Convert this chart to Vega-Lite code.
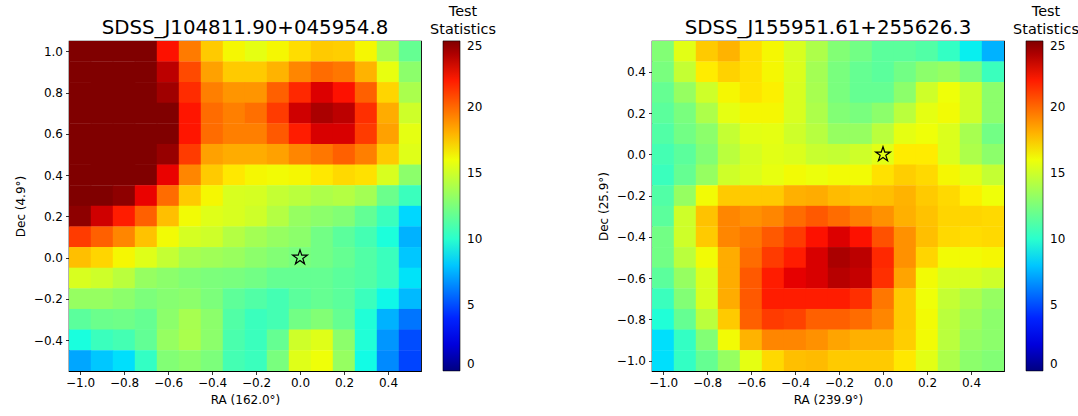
{
  "$schema": "https://vega.github.io/schema/vega-lite/v6.json",
  "padding": {"top": 4, "left": 13, "right": 0, "bottom": 0},
  "background": "white",
  "config": {
    "font": "DejaVu Sans",
    "view": {"stroke": "black", "strokeWidth": 1.2},
    "axis": {"labelFont": "DejaVu Sans", "labelFontSize": 12, "labelColor": "black", "tickColor": "black", "tickSize": 3.5, "tickWidth": 0.8, "labelPadding": 3, "titleFont": "DejaVu Sans", "titleFontSize": 12, "titleFontWeight": "normal", "titleColor": "black", "grid": false, "domain": false, "format": ".1f", "titlePadding": 6},
    "title": {"font": "DejaVu Sans", "fontSize": 19.8, "fontWeight": "normal", "color": "black", "offset": -33},
    "legend": {"labelFont": "DejaVu Sans", "titleFont": "DejaVu Sans", "labelColor": "black", "titleColor": "black"}
  },
  "datasets": {
    "star": [{"ra": 0, "dec": 0}],
    "left": [
      {"ra":-1.0,"dec":1.0,"ts":25},{"ra":-0.9,"dec":1.0,"ts":25},{"ra":-0.8,"dec":1.0,"ts":25},{"ra":-0.7,"dec":1.0,"ts":25},{"ra":-0.6,"dec":1.0,"ts":22.3},{"ra":-0.5,"dec":1.0,"ts":19.5},{"ra":-0.4,"dec":1.0,"ts":17.4},{"ra":-0.3,"dec":1.0,"ts":16.2},{"ra":-0.2,"dec":1.0,"ts":15.7},{"ra":-0.1,"dec":1.0,"ts":16.2},{"ra":0.0,"dec":1.0,"ts":16.9},{"ra":0.1,"dec":1.0,"ts":17.4},{"ra":0.2,"dec":1.0,"ts":17.3},{"ra":0.3,"dec":1.0,"ts":16.2},{"ra":0.4,"dec":1.0,"ts":13.9},{"ra":0.5,"dec":1.0,"ts":11.8},
      {"ra":-1.0,"dec":0.9,"ts":25},{"ra":-0.9,"dec":0.9,"ts":25},{"ra":-0.8,"dec":0.9,"ts":25},{"ra":-0.7,"dec":0.9,"ts":25},{"ra":-0.6,"dec":0.9,"ts":23.7},{"ra":-0.5,"dec":0.9,"ts":20.8},{"ra":-0.4,"dec":0.9,"ts":18.5},{"ra":-0.3,"dec":0.9,"ts":17.4},{"ra":-0.2,"dec":0.9,"ts":17.4},{"ra":-0.1,"dec":0.9,"ts":18},{"ra":0.0,"dec":0.9,"ts":19.2},{"ra":0.1,"dec":0.9,"ts":19.9},{"ra":0.2,"dec":0.9,"ts":19.6},{"ra":0.3,"dec":0.9,"ts":18},{"ra":0.4,"dec":0.9,"ts":15.8},{"ra":0.5,"dec":0.9,"ts":13},
      {"ra":-1.0,"dec":0.8,"ts":25},{"ra":-0.9,"dec":0.8,"ts":25},{"ra":-0.8,"dec":0.8,"ts":25},{"ra":-0.7,"dec":0.8,"ts":25},{"ra":-0.6,"dec":0.8,"ts":24.3},{"ra":-0.5,"dec":0.8,"ts":21.6},{"ra":-0.4,"dec":0.8,"ts":19.4},{"ra":-0.3,"dec":0.8,"ts":18.8},{"ra":-0.2,"dec":0.8,"ts":18.8},{"ra":-0.1,"dec":0.8,"ts":20.2},{"ra":0.0,"dec":0.8,"ts":21.7},{"ra":0.1,"dec":0.8,"ts":23},{"ra":0.2,"dec":0.8,"ts":22.3},{"ra":0.3,"dec":0.8,"ts":20.2},{"ra":0.4,"dec":0.8,"ts":17.1},{"ra":0.5,"dec":0.8,"ts":13.9},
      {"ra":-1.0,"dec":0.7,"ts":25},{"ra":-0.9,"dec":0.7,"ts":25},{"ra":-0.8,"dec":0.7,"ts":25},{"ra":-0.7,"dec":0.7,"ts":25},{"ra":-0.6,"dec":0.7,"ts":25},{"ra":-0.5,"dec":0.7,"ts":22.2},{"ra":-0.4,"dec":0.7,"ts":19.9},{"ra":-0.3,"dec":0.7,"ts":19.4},{"ra":-0.2,"dec":0.7,"ts":19.8},{"ra":-0.1,"dec":0.7,"ts":21.2},{"ra":0.0,"dec":0.7,"ts":23.3},{"ra":0.1,"dec":0.7,"ts":24.1},{"ra":0.2,"dec":0.7,"ts":23.7},{"ra":0.3,"dec":0.7,"ts":21.5},{"ra":0.4,"dec":0.7,"ts":18.2},{"ra":0.5,"dec":0.7,"ts":15},
      {"ra":-1.0,"dec":0.6,"ts":25},{"ra":-0.9,"dec":0.6,"ts":25},{"ra":-0.8,"dec":0.6,"ts":25},{"ra":-0.7,"dec":0.6,"ts":25},{"ra":-0.6,"dec":0.6,"ts":25},{"ra":-0.5,"dec":0.6,"ts":22.2},{"ra":-0.4,"dec":0.6,"ts":19.9},{"ra":-0.3,"dec":0.6,"ts":19.4},{"ra":-0.2,"dec":0.6,"ts":19.4},{"ra":-0.1,"dec":0.6,"ts":20.4},{"ra":0.0,"dec":0.6,"ts":22},{"ra":0.1,"dec":0.6,"ts":23.1},{"ra":0.2,"dec":0.6,"ts":23.1},{"ra":0.3,"dec":0.6,"ts":21.2},{"ra":0.4,"dec":0.6,"ts":18.5},{"ra":0.5,"dec":0.6,"ts":15.7},
      {"ra":-1.0,"dec":0.5,"ts":25},{"ra":-0.9,"dec":0.5,"ts":25},{"ra":-0.8,"dec":0.5,"ts":25},{"ra":-0.7,"dec":0.5,"ts":25},{"ra":-0.6,"dec":0.5,"ts":24.5},{"ra":-0.5,"dec":0.5,"ts":21.2},{"ra":-0.4,"dec":0.5,"ts":18.5},{"ra":-0.3,"dec":0.5,"ts":18.2},{"ra":-0.2,"dec":0.5,"ts":18.2},{"ra":-0.1,"dec":0.5,"ts":18.5},{"ra":0.0,"dec":0.5,"ts":19.2},{"ra":0.1,"dec":0.5,"ts":19.6},{"ra":0.2,"dec":0.5,"ts":20.2},{"ra":0.3,"dec":0.5,"ts":19.4},{"ra":0.4,"dec":0.5,"ts":17.4},{"ra":0.5,"dec":0.5,"ts":15.5},
      {"ra":-1.0,"dec":0.4,"ts":25},{"ra":-0.9,"dec":0.4,"ts":25},{"ra":-0.8,"dec":0.4,"ts":25},{"ra":-0.7,"dec":0.4,"ts":25},{"ra":-0.6,"dec":0.4,"ts":22.7},{"ra":-0.5,"dec":0.4,"ts":19.2},{"ra":-0.4,"dec":0.4,"ts":17.4},{"ra":-0.3,"dec":0.4,"ts":16.6},{"ra":-0.2,"dec":0.4,"ts":16.2},{"ra":-0.1,"dec":0.4,"ts":16.1},{"ra":0.0,"dec":0.4,"ts":16.2},{"ra":0.1,"dec":0.4,"ts":16.6},{"ra":0.2,"dec":0.4,"ts":17},{"ra":0.3,"dec":0.4,"ts":16.8},{"ra":0.4,"dec":0.4,"ts":15.3},{"ra":0.5,"dec":0.4,"ts":13},
      {"ra":-1.0,"dec":0.3,"ts":25},{"ra":-0.9,"dec":0.3,"ts":25},{"ra":-0.8,"dec":0.3,"ts":24.7},{"ra":-0.7,"dec":0.3,"ts":22.7},{"ra":-0.6,"dec":0.3,"ts":19.9},{"ra":-0.5,"dec":0.3,"ts":17.4},{"ra":-0.4,"dec":0.3,"ts":16.2},{"ra":-0.3,"dec":0.3,"ts":15.3},{"ra":-0.2,"dec":0.3,"ts":15.2},{"ra":-0.1,"dec":0.3,"ts":14.7},{"ra":0.0,"dec":0.3,"ts":14.4},{"ra":0.1,"dec":0.3,"ts":14},{"ra":0.2,"dec":0.3,"ts":14.2},{"ra":0.3,"dec":0.3,"ts":13.7},{"ra":0.4,"dec":0.3,"ts":12},{"ra":0.5,"dec":0.3,"ts":10.5},
      {"ra":-1.0,"dec":0.2,"ts":24.7},{"ra":-0.9,"dec":0.2,"ts":23.3},{"ra":-0.8,"dec":0.2,"ts":22},{"ra":-0.7,"dec":0.2,"ts":20.2},{"ra":-0.6,"dec":0.2,"ts":17.7},{"ra":-0.5,"dec":0.2,"ts":16.1},{"ra":-0.4,"dec":0.2,"ts":15.5},{"ra":-0.3,"dec":0.2,"ts":15.3},{"ra":-0.2,"dec":0.2,"ts":15},{"ra":-0.1,"dec":0.2,"ts":14.2},{"ra":0.0,"dec":0.2,"ts":13.3},{"ra":0.1,"dec":0.2,"ts":13},{"ra":0.2,"dec":0.2,"ts":12.7},{"ra":0.3,"dec":0.2,"ts":11.7},{"ra":0.4,"dec":0.2,"ts":10.5},{"ra":0.5,"dec":0.2,"ts":8.4},
      {"ra":-1.0,"dec":0.1,"ts":21.2},{"ra":-0.9,"dec":0.1,"ts":20.2},{"ra":-0.8,"dec":0.1,"ts":19.2},{"ra":-0.7,"dec":0.1,"ts":17.6},{"ra":-0.6,"dec":0.1,"ts":16.1},{"ra":-0.5,"dec":0.1,"ts":15.2},{"ra":-0.4,"dec":0.1,"ts":15},{"ra":-0.3,"dec":0.1,"ts":14.2},{"ra":-0.2,"dec":0.1,"ts":13.7},{"ra":-0.1,"dec":0.1,"ts":13.3},{"ra":0.0,"dec":0.1,"ts":13},{"ra":0.1,"dec":0.1,"ts":12.2},{"ra":0.2,"dec":0.1,"ts":11.5},{"ra":0.3,"dec":0.1,"ts":10.8},{"ra":0.4,"dec":0.1,"ts":9.6},{"ra":0.5,"dec":0.1,"ts":7.5},
      {"ra":-1.0,"dec":0.0,"ts":17.7},{"ra":-0.9,"dec":0.0,"ts":17.1},{"ra":-0.8,"dec":0.0,"ts":16.2},{"ra":-0.7,"dec":0.0,"ts":15.5},{"ra":-0.6,"dec":0.0,"ts":14.7},{"ra":-0.5,"dec":0.0,"ts":13.8},{"ra":-0.4,"dec":0.0,"ts":13.6},{"ra":-0.3,"dec":0.0,"ts":13.4},{"ra":-0.2,"dec":0.0,"ts":13},{"ra":-0.1,"dec":0.0,"ts":12.7},{"ra":0.0,"dec":0.0,"ts":12.4},{"ra":0.1,"dec":0.0,"ts":12.2},{"ra":0.2,"dec":0.0,"ts":11.8},{"ra":0.3,"dec":0.0,"ts":11.2},{"ra":0.4,"dec":0.0,"ts":10.5},{"ra":0.5,"dec":0.0,"ts":8},
      {"ra":-1.0,"dec":-0.1,"ts":15.3},{"ra":-0.9,"dec":-0.1,"ts":15},{"ra":-0.8,"dec":-0.1,"ts":14.4},{"ra":-0.7,"dec":-0.1,"ts":13.3},{"ra":-0.6,"dec":-0.1,"ts":13},{"ra":-0.5,"dec":-0.1,"ts":12.7},{"ra":-0.4,"dec":-0.1,"ts":12.5},{"ra":-0.3,"dec":-0.1,"ts":12.4},{"ra":-0.2,"dec":-0.1,"ts":12.2},{"ra":-0.1,"dec":-0.1,"ts":11.8},{"ra":0.0,"dec":-0.1,"ts":11.8},{"ra":0.1,"dec":-0.1,"ts":11.8},{"ra":0.2,"dec":-0.1,"ts":11.5},{"ra":0.3,"dec":-0.1,"ts":11.2},{"ra":0.4,"dec":-0.1,"ts":10.5},{"ra":0.5,"dec":-0.1,"ts":8.7},
      {"ra":-1.0,"dec":-0.2,"ts":13.3},{"ra":-0.9,"dec":-0.2,"ts":13.3},{"ra":-0.8,"dec":-0.2,"ts":13},{"ra":-0.7,"dec":-0.2,"ts":12.5},{"ra":-0.6,"dec":-0.2,"ts":12.8},{"ra":-0.5,"dec":-0.2,"ts":13},{"ra":-0.4,"dec":-0.2,"ts":12.5},{"ra":-0.3,"dec":-0.2,"ts":11.6},{"ra":-0.2,"dec":-0.2,"ts":11.2},{"ra":-0.1,"dec":-0.2,"ts":10.8},{"ra":0.0,"dec":-0.2,"ts":11.5},{"ra":0.1,"dec":-0.2,"ts":11.8},{"ra":0.2,"dec":-0.2,"ts":11.5},{"ra":0.3,"dec":-0.2,"ts":10.5},{"ra":0.4,"dec":-0.2,"ts":9.2},{"ra":0.5,"dec":-0.2,"ts":7.7},
      {"ra":-1.0,"dec":-0.3,"ts":11.5},{"ra":-0.9,"dec":-0.3,"ts":12},{"ra":-0.8,"dec":-0.3,"ts":12.1},{"ra":-0.7,"dec":-0.3,"ts":11.8},{"ra":-0.6,"dec":-0.3,"ts":13},{"ra":-0.5,"dec":-0.3,"ts":13.8},{"ra":-0.4,"dec":-0.3,"ts":13},{"ra":-0.3,"dec":-0.3,"ts":11.2},{"ra":-0.2,"dec":-0.3,"ts":10.5},{"ra":-0.1,"dec":-0.3,"ts":10.8},{"ra":0.0,"dec":-0.3,"ts":12.2},{"ra":0.1,"dec":-0.3,"ts":12.7},{"ra":0.2,"dec":-0.3,"ts":11.8},{"ra":0.3,"dec":-0.3,"ts":9.7},{"ra":0.4,"dec":-0.3,"ts":7.5},{"ra":0.5,"dec":-0.3,"ts":6},
      {"ra":-1.0,"dec":-0.4,"ts":9.5},{"ra":-0.9,"dec":-0.4,"ts":10.5},{"ra":-0.8,"dec":-0.4,"ts":10.8},{"ra":-0.7,"dec":-0.4,"ts":11.7},{"ra":-0.6,"dec":-0.4,"ts":13.3},{"ra":-0.5,"dec":-0.4,"ts":13.9},{"ra":-0.4,"dec":-0.4,"ts":13},{"ra":-0.3,"dec":-0.4,"ts":11},{"ra":-0.2,"dec":-0.4,"ts":10.5},{"ra":-0.1,"dec":-0.4,"ts":11.8},{"ra":0.0,"dec":-0.4,"ts":15},{"ra":0.1,"dec":-0.4,"ts":15.5},{"ra":0.2,"dec":-0.4,"ts":13},{"ra":0.3,"dec":-0.4,"ts":9.7},{"ra":0.4,"dec":-0.4,"ts":6.8},{"ra":0.5,"dec":-0.4,"ts":5},
      {"ra":-1.0,"dec":-0.5,"ts":7.2},{"ra":-0.9,"dec":-0.5,"ts":8},{"ra":-0.8,"dec":-0.5,"ts":8.6},{"ra":-0.7,"dec":-0.5,"ts":10.3},{"ra":-0.6,"dec":-0.5,"ts":12.7},{"ra":-0.5,"dec":-0.5,"ts":13},{"ra":-0.4,"dec":-0.5,"ts":12.5},{"ra":-0.3,"dec":-0.5,"ts":10.8},{"ra":-0.2,"dec":-0.5,"ts":10.5},{"ra":-0.1,"dec":-0.5,"ts":12.4},{"ra":0.0,"dec":-0.5,"ts":15.5},{"ra":0.1,"dec":-0.5,"ts":16},{"ra":0.2,"dec":-0.5,"ts":13.3},{"ra":0.3,"dec":-0.5,"ts":9.3},{"ra":0.4,"dec":-0.5,"ts":6.5},{"ra":0.5,"dec":-0.5,"ts":4.8}
    ],
    "right": [
      {"ra":-1.0,"dec":0.5,"ts":12.7},{"ra":-0.9,"dec":0.5,"ts":15.6},{"ra":-0.8,"dec":0.5,"ts":17.4},{"ra":-0.7,"dec":0.5,"ts":18},{"ra":-0.6,"dec":0.5,"ts":16.9},{"ra":-0.5,"dec":0.5,"ts":16.2},{"ra":-0.4,"dec":0.5,"ts":15.3},{"ra":-0.3,"dec":0.5,"ts":14},{"ra":-0.2,"dec":0.5,"ts":12.7},{"ra":-0.1,"dec":0.5,"ts":12.2},{"ra":0.0,"dec":0.5,"ts":11.5},{"ra":0.1,"dec":0.5,"ts":11.5},{"ra":0.2,"dec":0.5,"ts":11.2},{"ra":0.3,"dec":0.5,"ts":10.3},{"ra":0.4,"dec":0.5,"ts":9},{"ra":0.5,"dec":0.5,"ts":7.5},
      {"ra":-1.0,"dec":0.4,"ts":12.4},{"ra":-0.9,"dec":0.4,"ts":14.7},{"ra":-0.8,"dec":0.4,"ts":16.5},{"ra":-0.7,"dec":0.4,"ts":17.2},{"ra":-0.6,"dec":0.4,"ts":16.8},{"ra":-0.5,"dec":0.4,"ts":16.2},{"ra":-0.4,"dec":0.4,"ts":15.4},{"ra":-0.3,"dec":0.4,"ts":13.7},{"ra":-0.2,"dec":0.4,"ts":12.4},{"ra":-0.1,"dec":0.4,"ts":11.8},{"ra":0.0,"dec":0.4,"ts":11.5},{"ra":0.1,"dec":0.4,"ts":12.2},{"ra":0.2,"dec":0.4,"ts":13},{"ra":0.3,"dec":0.4,"ts":13.3},{"ra":0.4,"dec":0.4,"ts":12.4},{"ra":0.5,"dec":0.4,"ts":10.5},
      {"ra":-1.0,"dec":0.3,"ts":11.8},{"ra":-0.9,"dec":0.3,"ts":13.3},{"ra":-0.8,"dec":0.3,"ts":15},{"ra":-0.7,"dec":0.3,"ts":16.2},{"ra":-0.6,"dec":0.3,"ts":16.7},{"ra":-0.5,"dec":0.3,"ts":16.4},{"ra":-0.4,"dec":0.3,"ts":15.3},{"ra":-0.3,"dec":0.3,"ts":13.8},{"ra":-0.2,"dec":0.3,"ts":12.4},{"ra":-0.1,"dec":0.3,"ts":11.8},{"ra":0.0,"dec":0.3,"ts":11.8},{"ra":0.1,"dec":0.3,"ts":13},{"ra":0.2,"dec":0.3,"ts":15},{"ra":0.3,"dec":0.3,"ts":16},{"ra":0.4,"dec":0.3,"ts":15},{"ra":0.5,"dec":0.3,"ts":13},
      {"ra":-1.0,"dec":0.2,"ts":11.5},{"ra":-0.9,"dec":0.2,"ts":12.4},{"ra":-0.8,"dec":0.2,"ts":14},{"ra":-0.7,"dec":0.2,"ts":15.7},{"ra":-0.6,"dec":0.2,"ts":16.2},{"ra":-0.5,"dec":0.2,"ts":16.2},{"ra":-0.4,"dec":0.2,"ts":15.3},{"ra":-0.3,"dec":0.2,"ts":14},{"ra":-0.2,"dec":0.2,"ts":12.7},{"ra":-0.1,"dec":0.2,"ts":12.4},{"ra":0.0,"dec":0.2,"ts":13},{"ra":0.1,"dec":0.2,"ts":14.4},{"ra":0.2,"dec":0.2,"ts":15.7},{"ra":0.3,"dec":0.2,"ts":16.1},{"ra":0.4,"dec":0.2,"ts":15},{"ra":0.5,"dec":0.2,"ts":13},
      {"ra":-1.0,"dec":0.1,"ts":11.2},{"ra":-0.9,"dec":0.1,"ts":12.2},{"ra":-0.8,"dec":0.1,"ts":13},{"ra":-0.7,"dec":0.1,"ts":14.7},{"ra":-0.6,"dec":0.1,"ts":15.6},{"ra":-0.5,"dec":0.1,"ts":15.7},{"ra":-0.4,"dec":0.1,"ts":15},{"ra":-0.3,"dec":0.1,"ts":14.3},{"ra":-0.2,"dec":0.1,"ts":13.3},{"ra":-0.1,"dec":0.1,"ts":13.3},{"ra":0.0,"dec":0.1,"ts":14.4},{"ra":0.1,"dec":0.1,"ts":15.7},{"ra":0.2,"dec":0.1,"ts":16},{"ra":0.3,"dec":0.1,"ts":15.4},{"ra":0.4,"dec":0.1,"ts":13.8},{"ra":0.5,"dec":0.1,"ts":12.2},
      {"ra":-1.0,"dec":0.0,"ts":10.8},{"ra":-0.9,"dec":0.0,"ts":11.5},{"ra":-0.8,"dec":0.0,"ts":12.7},{"ra":-0.7,"dec":0.0,"ts":14.4},{"ra":-0.6,"dec":0.0,"ts":15.2},{"ra":-0.5,"dec":0.0,"ts":15.6},{"ra":-0.4,"dec":0.0,"ts":15.4},{"ra":-0.3,"dec":0.0,"ts":14.8},{"ra":-0.2,"dec":0.0,"ts":14.7},{"ra":-0.1,"dec":0.0,"ts":15},{"ra":0.0,"dec":0.0,"ts":15.6},{"ra":0.1,"dec":0.0,"ts":16.5},{"ra":0.2,"dec":0.0,"ts":16.5},{"ra":0.3,"dec":0.0,"ts":15.4},{"ra":0.4,"dec":0.0,"ts":14},{"ra":0.5,"dec":0.0,"ts":13},
      {"ra":-1.0,"dec":-0.1,"ts":10.5},{"ra":-0.9,"dec":-0.1,"ts":11.8},{"ra":-0.8,"dec":-0.1,"ts":13.3},{"ra":-0.7,"dec":-0.1,"ts":15},{"ra":-0.6,"dec":-0.1,"ts":15.4},{"ra":-0.5,"dec":-0.1,"ts":15.8},{"ra":-0.4,"dec":-0.1,"ts":16.1},{"ra":-0.3,"dec":-0.1,"ts":15.9},{"ra":-0.2,"dec":-0.1,"ts":16.1},{"ra":-0.1,"dec":-0.1,"ts":16.1},{"ra":0.0,"dec":-0.1,"ts":16.8},{"ra":0.1,"dec":-0.1,"ts":17.3},{"ra":0.2,"dec":-0.1,"ts":17},{"ra":0.3,"dec":-0.1,"ts":16.2},{"ra":0.4,"dec":-0.1,"ts":15.6},{"ra":0.5,"dec":-0.1,"ts":14.7},
      {"ra":-1.0,"dec":-0.2,"ts":11.2},{"ra":-0.9,"dec":-0.2,"ts":13.3},{"ra":-0.8,"dec":-0.2,"ts":16.1},{"ra":-0.7,"dec":-0.2,"ts":17.4},{"ra":-0.6,"dec":-0.2,"ts":17.4},{"ra":-0.5,"dec":-0.2,"ts":17.4},{"ra":-0.4,"dec":-0.2,"ts":18.1},{"ra":-0.3,"dec":-0.2,"ts":18.2},{"ra":-0.2,"dec":-0.2,"ts":17.8},{"ra":-0.1,"dec":-0.2,"ts":17.6},{"ra":0.0,"dec":-0.2,"ts":17.7},{"ra":0.1,"dec":-0.2,"ts":18},{"ra":0.2,"dec":-0.2,"ts":17.4},{"ra":0.3,"dec":-0.2,"ts":17},{"ra":0.4,"dec":-0.2,"ts":16.4},{"ra":0.5,"dec":-0.2,"ts":16},
      {"ra":-1.0,"dec":-0.3,"ts":11.5},{"ra":-0.9,"dec":-0.3,"ts":15},{"ra":-0.8,"dec":-0.3,"ts":17.6},{"ra":-0.7,"dec":-0.3,"ts":19.2},{"ra":-0.6,"dec":-0.3,"ts":18.9},{"ra":-0.5,"dec":-0.3,"ts":19.2},{"ra":-0.4,"dec":-0.3,"ts":19.9},{"ra":-0.3,"dec":-0.3,"ts":20.4},{"ra":-0.2,"dec":-0.3,"ts":19.9},{"ra":-0.1,"dec":-0.3,"ts":19.4},{"ra":0.0,"dec":-0.3,"ts":18.9},{"ra":0.1,"dec":-0.3,"ts":18.1},{"ra":0.2,"dec":-0.3,"ts":17.6},{"ra":0.3,"dec":-0.3,"ts":17.1},{"ra":0.4,"dec":-0.3,"ts":17.1},{"ra":0.5,"dec":-0.3,"ts":17},
      {"ra":-1.0,"dec":-0.4,"ts":12.2},{"ra":-0.9,"dec":-0.4,"ts":15},{"ra":-0.8,"dec":-0.4,"ts":17.4},{"ra":-0.7,"dec":-0.4,"ts":19.2},{"ra":-0.6,"dec":-0.4,"ts":19.6},{"ra":-0.5,"dec":-0.4,"ts":20.4},{"ra":-0.4,"dec":-0.4,"ts":21.2},{"ra":-0.3,"dec":-0.4,"ts":22.3},{"ra":-0.2,"dec":-0.4,"ts":23},{"ra":-0.1,"dec":-0.4,"ts":22.3},{"ra":0.0,"dec":-0.4,"ts":20.6},{"ra":0.1,"dec":-0.4,"ts":18.9},{"ra":0.2,"dec":-0.4,"ts":17.7},{"ra":0.3,"dec":-0.4,"ts":17},{"ra":0.4,"dec":-0.4,"ts":16.9},{"ra":0.5,"dec":-0.4,"ts":17},
      {"ra":-1.0,"dec":-0.5,"ts":12.2},{"ra":-0.9,"dec":-0.5,"ts":14.4},{"ra":-0.8,"dec":-0.5,"ts":16.1},{"ra":-0.7,"dec":-0.5,"ts":18.2},{"ra":-0.6,"dec":-0.5,"ts":19.9},{"ra":-0.5,"dec":-0.5,"ts":21.2},{"ra":-0.4,"dec":-0.5,"ts":22},{"ra":-0.3,"dec":-0.5,"ts":23.1},{"ra":-0.2,"dec":-0.5,"ts":24.1},{"ra":-0.1,"dec":-0.5,"ts":23.7},{"ra":0.0,"dec":-0.5,"ts":21.7},{"ra":0.1,"dec":-0.5,"ts":18.9},{"ra":0.2,"dec":-0.5,"ts":17.1},{"ra":0.3,"dec":-0.5,"ts":16.1},{"ra":0.4,"dec":-0.5,"ts":16.1},{"ra":0.5,"dec":-0.5,"ts":16.2},
      {"ra":-1.0,"dec":-0.6,"ts":11.5},{"ra":-0.9,"dec":-0.6,"ts":13.3},{"ra":-0.8,"dec":-0.6,"ts":15.4},{"ra":-0.7,"dec":-0.6,"ts":18.2},{"ra":-0.6,"dec":-0.6,"ts":20.4},{"ra":-0.5,"dec":-0.6,"ts":22},{"ra":-0.4,"dec":-0.6,"ts":22.8},{"ra":-0.3,"dec":-0.6,"ts":23.1},{"ra":-0.2,"dec":-0.6,"ts":23.8},{"ra":-0.1,"dec":-0.6,"ts":23.5},{"ra":0.0,"dec":-0.6,"ts":21.5},{"ra":0.1,"dec":-0.6,"ts":18.4},{"ra":0.2,"dec":-0.6,"ts":16.1},{"ra":0.3,"dec":-0.6,"ts":15.3},{"ra":0.4,"dec":-0.6,"ts":15.3},{"ra":0.5,"dec":-0.6,"ts":15},
      {"ra":-1.0,"dec":-0.7,"ts":10.5},{"ra":-0.9,"dec":-0.7,"ts":12.7},{"ra":-0.8,"dec":-0.7,"ts":15.3},{"ra":-0.7,"dec":-0.7,"ts":18.2},{"ra":-0.6,"dec":-0.7,"ts":20.4},{"ra":-0.5,"dec":-0.7,"ts":22},{"ra":-0.4,"dec":-0.7,"ts":22},{"ra":-0.3,"dec":-0.7,"ts":22},{"ra":-0.2,"dec":-0.7,"ts":22},{"ra":-0.1,"dec":-0.7,"ts":21.5},{"ra":0.0,"dec":-0.7,"ts":19.6},{"ra":0.1,"dec":-0.7,"ts":17.4},{"ra":0.2,"dec":-0.7,"ts":16},{"ra":0.3,"dec":-0.7,"ts":14.7},{"ra":0.4,"dec":-0.7,"ts":14},{"ra":0.5,"dec":-0.7,"ts":13.3},
      {"ra":-1.0,"dec":-0.8,"ts":9.7},{"ra":-0.9,"dec":-0.8,"ts":11.8},{"ra":-0.8,"dec":-0.8,"ts":14.4},{"ra":-0.7,"dec":-0.8,"ts":17.4},{"ra":-0.6,"dec":-0.8,"ts":20.2},{"ra":-0.5,"dec":-0.8,"ts":21.2},{"ra":-0.4,"dec":-0.8,"ts":21},{"ra":-0.3,"dec":-0.8,"ts":20.2},{"ra":-0.2,"dec":-0.8,"ts":20.2},{"ra":-0.1,"dec":-0.8,"ts":19.9},{"ra":0.0,"dec":-0.8,"ts":19.2},{"ra":0.1,"dec":-0.8,"ts":17.4},{"ra":0.2,"dec":-0.8,"ts":16.1},{"ra":0.3,"dec":-0.8,"ts":14.4},{"ra":0.4,"dec":-0.8,"ts":13.6},{"ra":0.5,"dec":-0.8,"ts":13},
      {"ra":-1.0,"dec":-0.9,"ts":8.6},{"ra":-0.9,"dec":-0.9,"ts":10.3},{"ra":-0.8,"dec":-0.9,"ts":12.7},{"ra":-0.7,"dec":-0.9,"ts":16.1},{"ra":-0.6,"dec":-0.9,"ts":18},{"ra":-0.5,"dec":-0.9,"ts":19.2},{"ra":-0.4,"dec":-0.9,"ts":19.2},{"ra":-0.3,"dec":-0.9,"ts":18.9},{"ra":-0.2,"dec":-0.9,"ts":18.4},{"ra":-0.1,"dec":-0.9,"ts":18.1},{"ra":0.0,"dec":-0.9,"ts":18.1},{"ra":0.1,"dec":-0.9,"ts":17.3},{"ra":0.2,"dec":-0.9,"ts":16.1},{"ra":0.3,"dec":-0.9,"ts":14.4},{"ra":0.4,"dec":-0.9,"ts":13.3},{"ra":0.5,"dec":-0.9,"ts":13},
      {"ra":-1.0,"dec":-1.0,"ts":8.6},{"ra":-0.9,"dec":-1.0,"ts":10.3},{"ra":-0.8,"dec":-1.0,"ts":11.8},{"ra":-0.7,"dec":-1.0,"ts":13.3},{"ra":-0.6,"dec":-1.0,"ts":15.7},{"ra":-0.5,"dec":-1.0,"ts":17},{"ra":-0.4,"dec":-1.0,"ts":17.7},{"ra":-0.3,"dec":-1.0,"ts":17.8},{"ra":-0.2,"dec":-1.0,"ts":17.4},{"ra":-0.1,"dec":-1.0,"ts":17.4},{"ra":0.0,"dec":-1.0,"ts":17.4},{"ra":0.1,"dec":-1.0,"ts":16.6},{"ra":0.2,"dec":-1.0,"ts":15.6},{"ra":0.3,"dec":-1.0,"ts":14},{"ra":0.4,"dec":-1.0,"ts":13},{"ra":0.5,"dec":-1.0,"ts":12.7}
    ]
  },
  "spacing": 99,
  "resolve": {"scale": {"color": "independent"}},
  "hconcat": [
    {
      "width": 352, "height": 330,
      "title": "SDSS_J104811.90+045954.8",
      "layer": [
        {
          "data": {"name": "left"},
          "mark": {"type": "rect", "width": 22.4, "height": 21, "clip": true},
          "encoding": {
            "x": {"field": "ra", "type": "quantitative", "scale": {"domain": [-1.05, 0.55], "nice": false, "zero": false}, "axis": {"values": [-1, -0.8, -0.6, -0.4, -0.2, 0, 0.2, 0.4], "title": "RA (162.0°)"}},
            "y": {"field": "dec", "type": "quantitative", "scale": {"domain": [-0.55, 1.05], "nice": false, "zero": false}, "axis": {"values": [-0.4, -0.2, 0, 0.2, 0.4, 0.6, 0.8, 1.0], "title": "Dec (4.9°)"}},
            "color": {
              "field": "ts", "type": "quantitative",
              "scale": {"type": "linear", "domain": [0, 2.75, 3.125, 8.5, 8.75, 9.375, 16, 16.25, 16.5, 22.25, 22.75, 25], "range": ["#000080", "#0000ff", "#0000ff", "#00dbff", "#00e5f7", "#15ffe2", "#efff08", "#f7f500", "#ffec00", "#ff1300", "#e80000", "#800000"], "clamp": true, "interpolate": "rgb"},
              "legend": {"title": ["Test", "Statistics"], "orient": "none", "legendX": 361, "legendY": -36, "direction": "vertical", "values": [0, 5, 10, 15, 20, 25], "gradientLength": 330, "gradientThickness": 17, "gradientStrokeColor": "black", "gradientStrokeWidth": 0.6, "labelFontSize": 12, "labelOffset": 7, "titleFontSize": 14.4, "titleFontWeight": "normal", "titleLineHeight": 17.5, "titlePadding": 4, "titleAnchor": "middle", "titleAlign": "center"}
            }
          }
        },
        {
          "data": {"name": "star"},
          "mark": {"type": "point", "shape": "M0,-1L0.225,-0.309L0.951,-0.309L0.363,0.118L0.588,0.809L0,0.382L-0.588,0.809L-0.363,0.118L-0.951,-0.309L-0.225,-0.309Z", "filled": false, "stroke": "black", "strokeWidth": 1.2, "size": 240, "opacity": 1},
          "encoding": {"x": {"field": "ra", "type": "quantitative"}, "y": {"field": "dec", "type": "quantitative"}}
        }
      ]
    },
    {
      "width": 352, "height": 330,
      "title": "SDSS_J155951.61+255626.3",
      "layer": [
        {
          "data": {"name": "right"},
          "mark": {"type": "rect", "width": 22.4, "height": 21, "clip": true},
          "encoding": {
            "x": {"field": "ra", "type": "quantitative", "scale": {"domain": [-1.05, 0.55], "nice": false, "zero": false}, "axis": {"values": [-1, -0.8, -0.6, -0.4, -0.2, 0, 0.2, 0.4], "title": "RA (239.9°)"}},
            "y": {"field": "dec", "type": "quantitative", "scale": {"domain": [-1.05, 0.55], "nice": false, "zero": false}, "axis": {"values": [-1.0, -0.8, -0.6, -0.4, -0.2, 0, 0.2, 0.4], "title": "Dec (25.9°)"}},
            "color": {
              "field": "ts", "type": "quantitative",
              "scale": {"type": "linear", "domain": [0, 2.75, 3.125, 8.5, 8.75, 9.375, 16, 16.25, 16.5, 22.25, 22.75, 25], "range": ["#000080", "#0000ff", "#0000ff", "#00dbff", "#00e5f7", "#15ffe2", "#efff08", "#f7f500", "#ffec00", "#ff1300", "#e80000", "#800000"], "clamp": true, "interpolate": "rgb"},
              "legend": {"title": ["Test", "Statistics"], "orient": "none", "legendX": 361, "legendY": -36, "direction": "vertical", "values": [0, 5, 10, 15, 20, 25], "gradientLength": 330, "gradientThickness": 17, "gradientStrokeColor": "black", "gradientStrokeWidth": 0.6, "labelFontSize": 12, "labelOffset": 7, "titleFontSize": 14.4, "titleFontWeight": "normal", "titleLineHeight": 17.5, "titlePadding": 4, "titleAnchor": "middle", "titleAlign": "center"}
            }
          }
        },
        {
          "data": {"name": "star"},
          "mark": {"type": "point", "shape": "M0,-1L0.225,-0.309L0.951,-0.309L0.363,0.118L0.588,0.809L0,0.382L-0.588,0.809L-0.363,0.118L-0.951,-0.309L-0.225,-0.309Z", "filled": false, "stroke": "black", "strokeWidth": 1.2, "size": 240, "opacity": 1},
          "encoding": {"x": {"field": "ra", "type": "quantitative"}, "y": {"field": "dec", "type": "quantitative"}}
        }
      ]
    }
  ]
}
